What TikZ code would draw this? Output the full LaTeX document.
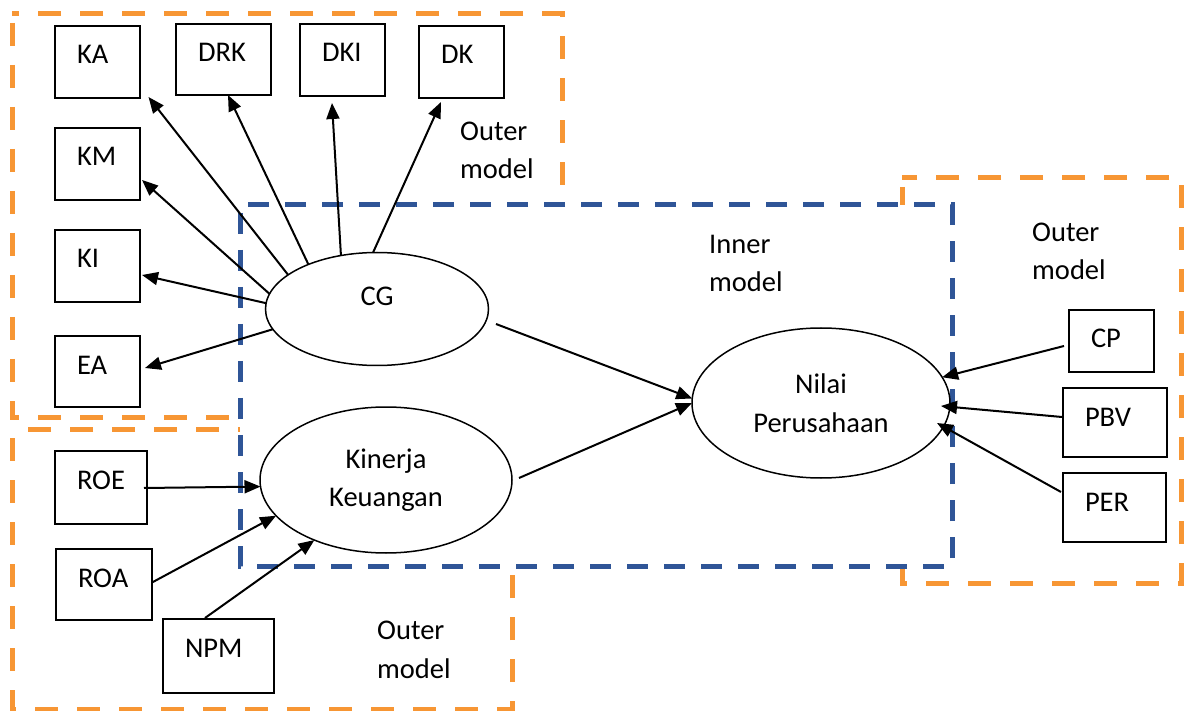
\documentclass[tikz,border=0pt]{standalone}
\usepackage{fontspec}
\setmainfont{Carlito}
\usetikzlibrary{shapes.geometric,arrows.meta,calc}
\definecolor{outerorange}{RGB}{247,150,52}
\definecolor{innerblue}{RGB}{47,85,151}
\newcommand\diagfont{\fontsize{28.5pt}{38.5pt}\selectfont}
\tikzset{
  indicator/.style 2 args={draw, line width=1.7pt, anchor=north west, outer sep=0pt,
    inner xsep=22pt, inner ysep=0pt, align=left, text width=#1,
    text height=38pt, text depth=#2, font=\diagfont},
  latent/.style={draw, shape=ellipse, line width=1.5pt, inner sep=0pt, outer sep=0pt,
    align=center, font=\diagfont},
  arr/.style={line width=2pt, -{Triangle[length=16pt,width=13pt]}},
  outerbox/.style={draw=outerorange, line width=5pt, dash pattern=on 23pt off 19pt, dash phase=-9pt},
  innerbox/.style={draw=innerblue, fill=white, line width=5pt, dash pattern=on 21pt off 16pt, dash phase=-8pt},
  caption/.style={align=left, font=\diagfont, inner sep=0pt, anchor=base west}
}
\begin{document}
\begin{tikzpicture}[x=1pt,y=-1pt]
\useasboundingbox (0,0) rectangle (1192,711);
\fill[white] (0,0) rectangle (1192,711);

% outer model regions
\draw[outerbox] (12,14) rectangle (562,417);
\draw[outerbox] (12,429) rectangle (512,709);
\draw[outerbox] (902,178) rectangle (1181,583);
% inner model region
\draw[innerbox] (240,205) rectangle (952,566);

% indicators of CG
\node[indicator={41pt}{34pt}] (KA)  at (55,26)  {KA};
\node[indicator={51pt}{33pt}] (DRK) at (176,24) {DRK};
\node[indicator={41pt}{34pt}] (DKI) at (300,24) {DKI};
\node[indicator={41pt}{34pt}] (DK)  at (419,26) {DK};
\node[indicator={41pt}{34pt}] (KM)  at (55,128) {KM};
\node[indicator={41pt}{34pt}] (KI)  at (55,230) {KI};
\node[indicator={41pt}{33pt}] (EA)  at (55,336) {EA};

% indicators of Kinerja Keuangan
\node[indicator={48pt}{35pt}] (ROE) at (55,451)  {ROE};
\node[indicator={52pt}{33pt}] (ROA) at (56,549)  {ROA};
\node[indicator={67pt}{36pt}] (NPM) at (163,619) {NPM};

% indicators of Nilai Perusahaan
\node[indicator={41pt}{24pt}]  (CP)  at (1069,310) {CP};
\node[indicator={60pt}{31pt}]  (PBV) at (1063,388) {PBV};
\node[indicator={59pt}{31pt}]  (PER) at (1063,473) {PER};

% latent variables
\node[latent, minimum width=223pt, minimum height=113pt, text height=20pt, text depth=26pt]
  (CG) at (377,309) {CG};
\node[latent, minimum width=252pt, minimum height=146pt] (KK) at (386,480) {Kinerja\\Keuangan};
\node[latent, minimum width=258pt, minimum height=150pt] (NP) at (821,403) {Nilai\\Perusahaan};

% reflective paths of CG
\draw[arr] (CG.159) -- ($(KA.south east)+(8.5,-1)$);
\draw[arr] (CG.147) -- ($(DRK.south)+(4.5,0)$);
\draw[arr] (CG.124) -- ($(DKI.south)+(-10.5,7)$);
\draw[arr] (CG.94)  -- ($(DK.south)+(-20.5,4)$);
\draw[arr] (CG.172) -- ($(KM.east)+(2,16)$);
\draw[arr] (CG.177) -- ($(KI.east)+(2,9)$);
\draw[arr] (CG.191) -- ($(EA.east)+(5,-3.5)$);

% formative paths into Kinerja Keuangan
\draw[arr] ($(ROE.east)+(-3,0.5)$) -- (KK.183);
\draw[arr] ($(ROA.east)+(0,-2)$) -- (KK.198);
\draw[arr] ($(NPM.north)+(-13.5,-1)$) -- (KK.220);

% structural paths
\draw[arr] ($(CG.east)+(7.5,15)$) -- (NP.178);
\draw[arr] ($(KK.east)+(7,-2)$) -- (NP.180);

% formative paths into Nilai Perusahaan
\draw[arr] ($(CP.west)+(-5,5)$) -- (NP.12);
\draw[arr] ($(PBV.west)+(-1,-5.5)$) -- ($(NP.east)+(-9,3)$);
\draw[arr] ($(PER.west)+(-2,-15.5)$) -- ($(NP.east)+(-13,20)$);

% region captions (anchored on the baseline of the second line)
\node[caption] (capOuterTop)   at (460,179)  {Outer\\model};
\node[caption] (capInner)      at (709,292)  {Inner\\model};
\node[caption] (capOuterRight) at (1032,280) {Outer\\model};
\node[caption] (capOuterBot)   at (377,678)  {Outer\\model};
\end{tikzpicture}
\end{document}
